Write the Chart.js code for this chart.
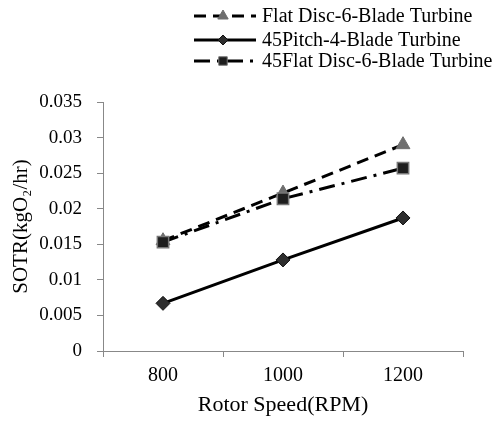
<!DOCTYPE html>
<html>
<head>
<meta charset="utf-8">
<script src="https://cdn.jsdelivr.net/npm/chart.js@4"></script>
<style>
  body { margin: 0; background: #fff; }
  #wrap { width: 503px; height: 422px; }
</style>
</head>
<body>
<div id="wrap"><canvas id="sotr-chart"></canvas></div>
<script>
var ctx = document.getElementById("sotr-chart").getContext("2d");

// Define the data
var labels = ["800", "1000", "1200"]; // rotor speed (RPM)
var flatDisc6 = [0.0155, 0.0222, 0.0290];
var pitch45Blade4 = [0.0067, 0.0128, 0.0187];
var flatDisc45Blade6 = [0.0153, 0.0214, 0.0257];
var seriesNames = ["Flat Disc-6-Blade Turbine", "45Pitch-4-Blade Turbine", "45Flat Disc-6-Blade Turbine"];
var yTicks = [0, 0.005, 0.01, 0.015, 0.02, 0.025, 0.03, 0.035];
// End Defining data

var serif = "'Liberation Serif', 'Times New Roman', serif";

// legend in the top right: line sample with the marker on it, then the name
var legendPlugin = {
  id: "sideLegend",
  afterDraw: function (chart) {
    var c = chart.ctx;
    var rows = [16, 40, 61];
    chart.data.datasets.forEach(function (ds, i) {
      var y = rows[i];
      c.save();
      c.strokeStyle = ds.borderColor;
      c.lineWidth = 3;
      c.setLineDash(ds.borderDash || []);
      c.beginPath();
      c.moveTo(194, y);
      c.lineTo(256, y);
      c.stroke();
      c.restore();

      c.save();
      c.fillStyle = ds.pointBackgroundColor;
      c.strokeStyle = ds.pointBorderColor;
      c.lineWidth = 1;
      Chart.helpers.drawPoint(c, {
        pointStyle: ds.pointStyle,
        radius: ds.pointRadius - 2,
        rotation: 0,
        borderWidth: 1
      }, 223, y);
      c.restore();

      c.save();
      c.fillStyle = "#000";
      c.font = "20px " + serif;
      c.textBaseline = "middle";
      c.fillText(ds.label, 262, y + 1);
      c.restore();
    });
  }
};

var myChart = new Chart(ctx, {
  type: "line",
  data: {
    labels: labels,
    datasets: [
      {
        label: seriesNames[0],
        data: flatDisc6,
        borderColor: "#000",
        borderWidth: 3,
        borderDash: [12, 7],
        pointStyle: "triangle",
        pointRadius: 8,
        pointBackgroundColor: "#6e6e6e",
        pointBorderColor: "#6e6e6e",
        pointBorderWidth: 1,
        order: 2,
        fill: false
      },
      {
        label: seriesNames[1],
        data: pitch45Blade4,
        borderColor: "#000",
        borderWidth: 3,
        pointStyle: "rectRot",
        pointRadius: 7,
        pointBackgroundColor: "#2e2e2e",
        pointBorderColor: "#111",
        pointBorderWidth: 1,
        order: 1,
        fill: false
      },
      {
        label: seriesNames[2],
        data: flatDisc45Blade6,
        borderColor: "#000",
        borderWidth: 3,
        borderDash: [16, 7, 3, 7],
        pointStyle: "rect",
        pointRadius: 8,
        pointBackgroundColor: "#1e1e1e",
        pointBorderColor: "#777",
        pointBorderWidth: 1.5,
        order: 0,
        fill: false
      }
    ]
  },
  options: {
    responsive: true,
    maintainAspectRatio: false,
    animation: false,
    layout: { padding: { top: 102, right: 40, left: 0, bottom: 0 } },
    plugins: {
      legend: { display: false },
      tooltip: { enabled: false }
    },
    scales: {
      x: {
        offset: true,
        grid: {
          offset: true,
          drawOnChartArea: false,
          drawTicks: true,
          tickLength: 6,
          color: "#888"
        },
        border: { color: "#888", width: 1 },
        ticks: { color: "#000", font: { family: serif, size: 20 }, padding: 7 },
        title: {
          display: true,
          text: "Rotor Speed(RPM)",
          color: "#000",
          font: { family: serif, size: 22 },
          padding: { top: 8 }
        },
        afterFit: function (scale) { scale.height = 71; }
      },
      y: {
        min: 0,
        max: 0.035,
        afterBuildTicks: function (scale) {
          scale.ticks = yTicks.map(function (v) { return { value: v }; });
        },
        grid: {
          drawOnChartArea: false,
          drawTicks: true,
          tickLength: 6,
          color: "#888"
        },
        border: { color: "#888", width: 1 },
        ticks: {
          color: "#000",
          font: { family: serif, size: 19 },
          padding: 15,
          callback: function (v) { return String(+v.toFixed(3)); }
        },
        title: {
          display: true,
          text: "SOTR(kgO\u2082/hr)",
          color: "#000",
          font: { family: serif, size: 21 },
          padding: { top: 9, bottom: 0 }
        },
        afterFit: function (scale) { scale.width = 103; }
      }
    }
  },
  plugins: [legendPlugin]
});
</script>
</body>
</html>
